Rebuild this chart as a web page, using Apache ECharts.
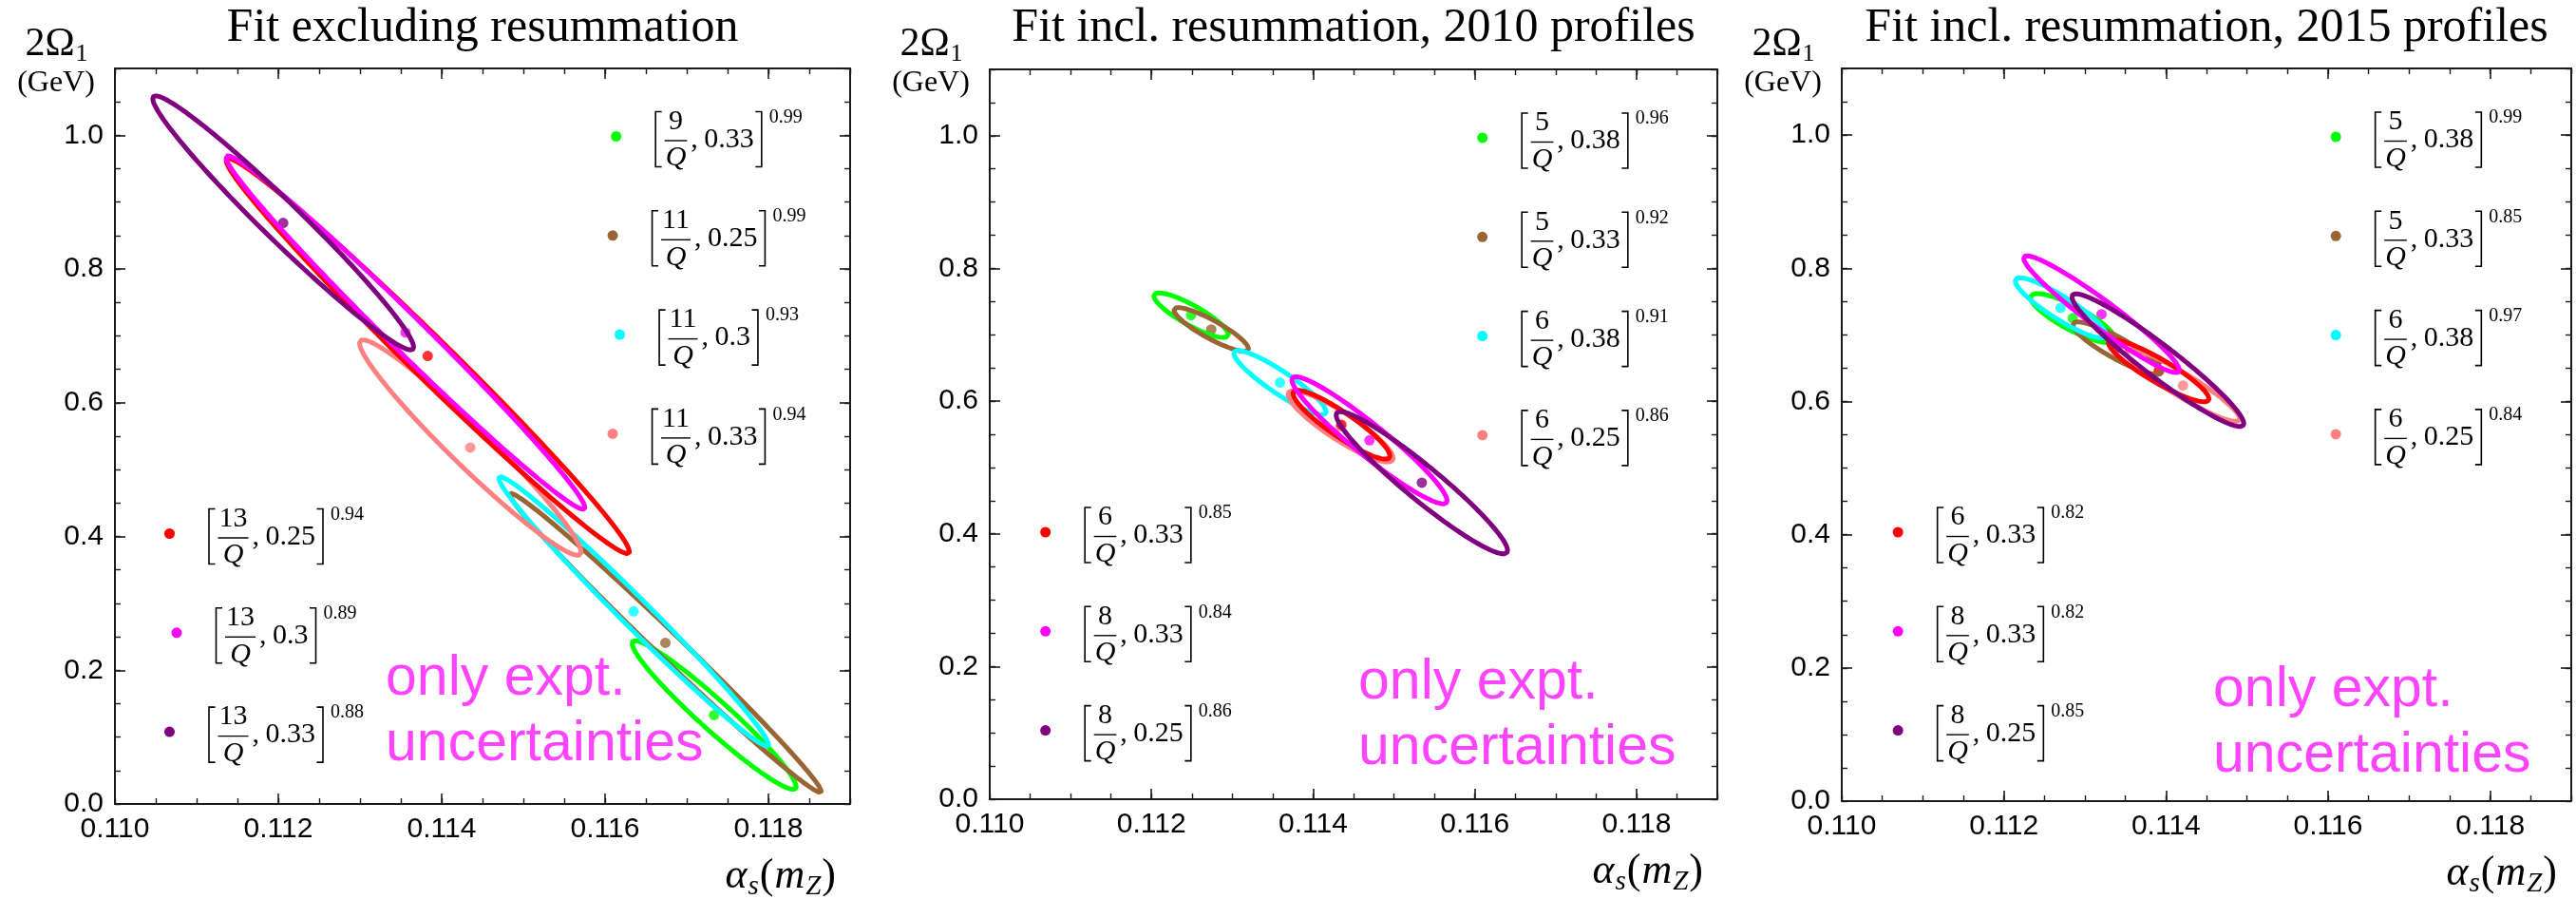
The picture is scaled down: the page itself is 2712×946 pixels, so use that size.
<!DOCTYPE html>
<html><head><meta charset="utf-8">
<script src="https://cdn.jsdelivr.net/npm/echarts@6/dist/echarts.min.js"></script>
<style>html,body{margin:0;padding:0;background:#fff}#c{width:2712px;height:946px}</style>
</head><body><div id="c"></div>
<script>
// ===================== DATA =====================
const panelTitles = ['Fit excluding resummation', 'Fit incl. resummation, 2010 profiles', 'Fit incl. resummation, 2015 profiles'];
const seriesColors = ['#00ff00', '#996633', '#00ffff', '#ff8080', '#ff0000', '#ff00ff', '#800080'];
const xTicksMajor = [0.110, 0.112, 0.114, 0.116, 0.118];
const yTicksMajor = [0.0, 0.2, 0.4, 0.6, 0.8, 1.0];

// Panel 1: fit excluding resummation
const p1Num = ['9', '11', '11', '11', '13', '13', '13'];
const p1Par = ['0.33', '0.25', '0.3', '0.33', '0.25', '0.3', '0.33'];
const p1Sup = ['0.99', '0.99', '0.93', '0.94', '0.94', '0.89', '0.88'];
const p1CX = [0.117335, 0.116739, 0.11635, 0.11435, 0.113829, 0.113557, 0.11206];
const p1CY = [0.133, 0.241, 0.288, 0.533, 0.670, 0.705, 0.869];
const p1DX = [0.001004, 0.001906, 0.00165, 0.001355, 0.002468, 0.0021955, 0.0015965]; // half x-extent
const p1DY = [-0.107, -0.222, -0.199, -0.156, -0.2925, -0.2616, -0.1857];           // y shift at x-extreme
const p1W  = [0.030, 0.026, 0.030, 0.040, 0.042, 0.037, 0.040];                      // vertical half-width at centre

// Panel 2: incl. resummation, 2010 profiles
const p2Num = ['5', '5', '6', '6', '6', '8', '8'];
const p2Par = ['0.38', '0.33', '0.38', '0.25', '0.33', '0.33', '0.25'];
const p2Sup = ['0.96', '0.92', '0.91', '0.86', '0.85', '0.84', '0.86'];
const p2CX = [0.11249, 0.11274, 0.11359, 0.11434, 0.11435, 0.114697, 0.115345];
const p2CY = [0.7295, 0.708, 0.628, 0.562, 0.5645, 0.541, 0.477];
const p2DX = [0.00046, 0.00046, 0.00057, 0.00065, 0.0006, 0.00096, 0.00106];
const p2DY = [-0.029, -0.029, -0.044, -0.048, -0.047, -0.091, -0.102];
const p2W  = [0.017, 0.0155, 0.020, 0.024, 0.022, 0.030, 0.033];

// Panel 3: incl. resummation, 2015 profiles
const p3Num = ['5', '5', '6', '6', '6', '8', '8'];
const p3Par = ['0.38', '0.33', '0.38', '0.25', '0.33', '0.33', '0.25'];
const p3Sup = ['0.99', '0.85', '0.97', '0.84', '0.82', '0.82', '0.85'];
const p3CX = [0.11285, 0.1134, 0.1127, 0.11421, 0.11391, 0.113205, 0.1139];
const p3CY = [0.725, 0.68, 0.7405, 0.624, 0.646, 0.731, 0.662];
const p3DX = [0.00052, 0.00055, 0.00056, 0.0007, 0.00062, 0.00096, 0.00106];
const p3DY = [-0.031, -0.035, -0.0405, -0.05, -0.042, -0.084, -0.095];
const p3W  = [0.020, 0.018, 0.020, 0.020, 0.020, 0.025, 0.030];

const panels = [
  {num: p1Num, par: p1Par, sup: p1Sup, cx: p1CX, cy: p1CY, dx: p1DX, dy: p1DY, w: p1W},
  {num: p2Num, par: p2Par, sup: p2Sup, cx: p2CX, cy: p2CY, dx: p2DX, dy: p2DY, w: p2W},
  {num: p3Num, par: p3Par, sup: p3Sup, cx: p3CX, cy: p3CY, dx: p3DX, dy: p3DY, w: p3W}
];

// ===================== LAYOUT =====================
const grids = [
  {left: 121, top: 72, width: 774, height: 774},
  {left: 1042, top: 73, width: 766, height: 768},
  {left: 1939, top: 72, width: 768, height: 771}
];
const legendUR = [{cx: 623, y: 71.5}, {cx: 614, y: 72}, {cx: 615.5, y: 72}];
const legendLL = [{cx: 157, y: 489.5}, {cx: 154, y: 487}, {cx: 154.5, y: 488}];
const noteXY = [{x: 285, y: 643}, {x: 388, y: 646}, {x: 391, y: 655}];
const ROW = 104.3;

const SERIF = '"Liberation Serif", "Times New Roman", serif';
const SANS = '"Liberation Sans", Arial, sans-serif';
const AX = '#1a1a1a';

const ctx = document.createElement('canvas').getContext('2d');
function tw(text, font) { ctx.font = font; return ctx.measureText(text).width; }
function txt(x, y, text, font, extra) {
  return {type: 'text', x: x, y: y, silent: true, z: 100,
    style: Object.assign({text: text, font: font, fill: '#000', align: 'left', verticalAlign: 'middle'}, extra || {})};
}

function ellipsePts(cx, cy, dx, dy, w) {
  const pts = [];
  const N = 240;
  for (let i = 0; i <= N; i++) {
    const t = 2 * Math.PI * i / N;
    pts.push([cx + dx * Math.cos(t), cy + dy * Math.cos(t) + w * Math.sin(t)]);
  }
  return pts;
}

// ===================== AXES =====================
const xAxes = [], yAxes = [], gridOpts = [], series = [], graphics = [];
grids.forEach(function (g, gi) {
  gridOpts.push({left: g.left, top: g.top, width: g.width, height: g.height, containLabel: false});
  const xb = {type: 'value', gridIndex: gi, min: 0.110, max: 0.119, splitLine: {show: false}};
  const lineOn = {show: true, onZero: false, lineStyle: {color: AX, width: 2}};
  const lineOff = {show: false, onZero: false};
  const tickMaj = {show: true, inside: true, length: 11, lineStyle: {color: AX, width: 1.6}};
  const tickMin = {show: true, inside: true, length: 6, lineStyle: {color: AX, width: 1.4}};
  xAxes.push(Object.assign({}, xb, {position: 'bottom', interval: 0.002, axisLine: lineOn, axisTick: tickMaj,
    axisLabel: {show: true, showMaxLabel: false, margin: 12, color: '#000', fontFamily: SANS, fontSize: 30,
      formatter: function (v) { return v.toFixed(3); }}}));
  xAxes.push(Object.assign({}, xb, {position: 'bottom', interval: 0.0005, axisLine: lineOff, axisTick: tickMin, axisLabel: {show: false}}));
  xAxes.push(Object.assign({}, xb, {position: 'top', interval: 0.002, axisLine: lineOn, axisTick: tickMaj, axisLabel: {show: false}}));
  xAxes.push(Object.assign({}, xb, {position: 'top', interval: 0.0005, axisLine: lineOff, axisTick: tickMin, axisLabel: {show: false}}));
  const yb = {type: 'value', gridIndex: gi, min: 0, max: 1.1, splitLine: {show: false}};
  yAxes.push(Object.assign({}, yb, {position: 'left', interval: 0.2, axisLine: lineOn, axisTick: tickMaj,
    axisLabel: {show: true, showMaxLabel: false, margin: 12, color: '#000', fontFamily: SANS, fontSize: 30,
      formatter: function (v) { return v.toFixed(1); }}}));
  yAxes.push(Object.assign({}, yb, {position: 'left', interval: 0.05, axisLine: lineOff, axisTick: tickMin, axisLabel: {show: false}}));
  yAxes.push(Object.assign({}, yb, {position: 'right', interval: 0.2, axisLine: lineOn, axisTick: tickMaj, axisLabel: {show: false}}));
  yAxes.push(Object.assign({}, yb, {position: 'right', interval: 0.05, axisLine: lineOff, axisTick: tickMin, axisLabel: {show: false}}));

  // ---- series: ellipse then its central value, in plotting order ----
  const P = panels[gi];
  for (let k = 0; k < 7; k++) {
    series.push({type: 'line', xAxisIndex: gi * 4, yAxisIndex: gi * 4, silent: true, animation: false,
      symbol: 'none', showSymbol: false, smooth: false,
      lineStyle: {color: seriesColors[k], width: 5, cap: 'round', join: 'round'},
      data: ellipsePts(P.cx[k], P.cy[k], P.dx[k], P.dy[k], P.w[k])});
    series.push({type: 'scatter', xAxisIndex: gi * 4, yAxisIndex: gi * 4, silent: true, animation: false,
      symbol: 'circle', symbolSize: 11, itemStyle: {color: seriesColors[k]},
      data: [[P.cx[k], P.cy[k]]]});
  }

  // ---- titles and axis names ----
  graphics.push(txt(g.left + g.width / 2, 30, panelTitles[gi], '50px ' + SERIF, {align: 'center'}));
  // y name 2Ω1 (GeV)
  const yn = g.left - 62;
  const f2 = '42px ' + SERIF, fs1 = '26px ' + SERIF;
  const w2 = tw('2Ω', f2), w1 = tw('1', fs1);
  const ys = yn - (w2 + w1) / 2;
  graphics.push(txt(ys, 47, '2Ω', f2));
  graphics.push(txt(ys + w2 + 1, 57, '1', fs1));
  graphics.push(txt(yn, 87.5, '(GeV)', '32px ' + SERIF, {align: 'center'}));
  // x name αs(mZ)
  const fA = 'italic 44px ' + SERIF, fR = '44px ' + SERIF, fSub = 'italic 29px ' + SERIF;
  const parts = [['α', fA, 0], ['s', fSub, 11], ['(', fR, 0], ['m', fA, 0], ['Z', fSub, 11], [')', fR, 0]];
  let totalW = 0; parts.forEach(function (p) { totalW += tw(p[0], p[1]) + 1; });
  let xx = g.left + g.width - 14 - totalW;
  const baseY = g.top + g.height + 76;
  parts.forEach(function (p) {
    graphics.push(txt(xx, baseY + p[2], p[0], p[1]));
    xx += tw(p[0], p[1]) + 1;
  });
  // note
  const nf = '59px ' + SANS;
  graphics.push(txt(g.left + noteXY[gi].x, g.top + noteXY[gi].y, 'only expt.', nf, {fill: '#ff44ff'}));
  graphics.push(txt(g.left + noteXY[gi].x, g.top + noteXY[gi].y + 69, 'uncertainties', nf, {fill: '#ff44ff'}));

  // ---- legends ----
  for (let k = 0; k < 7; k++) {
    let cxL, dotY;
    if (k < 4) { cxL = g.left + legendUR[gi].cx; dotY = g.top + legendUR[gi].y + ROW * k; }
    else { cxL = g.left + legendLL[gi].cx; dotY = g.top + legendLL[gi].y + ROW * (k - 4); }
    legendItem(cxL, dotY, seriesColors[k], P.num[k], P.par[k], P.sup[k]);
  }
});

function legendItem(centerX, dotY, color, num, par, sup) {
  const fN = '30px ' + SERIF, fQ = 'italic 30px ' + SERIF, fS = '20px ' + SERIF;
  const numW = tw(num, fN), qW = tw('Q', fQ), parW = tw(par, fN), supW = tw(sup, fS);
  const barW = Math.max(numW, qW) + 2;
  const pStart = 11 + barW + 18;
  const pEnd = pStart + parW;
  const total = 45.5 + pEnd + 16 + supW;
  const x0 = centerX - total / 2 + 45.5;
  const top = dotY - 26, bot = dotY + 32;
  const st = {stroke: '#000', lineWidth: 1.6, fill: null};
  graphics.push({type: 'circle', silent: true, z: 100, shape: {cx: x0 - 40, cy: dotY, r: 5.5}, style: {fill: color}});
  graphics.push({type: 'polyline', silent: true, z: 100, shape: {points: [[x0 + 8, top], [x0 + 1.5, top], [x0 + 1.5, bot], [x0 + 8, bot]]}, style: st});
  graphics.push(txt(x0 + 11 + barW / 2, dotY - 15.5, num, fN, {align: 'center'}));
  graphics.push({type: 'line', silent: true, z: 100, shape: {x1: x0 + 11, y1: dotY + 4.5, x2: x0 + 11 + barW, y2: dotY + 4.5}, style: {stroke: '#000', lineWidth: 1.4}});
  graphics.push(txt(x0 + 11 + barW / 2, dotY + 23, 'Q', fQ, {align: 'center'}));
  graphics.push(txt(x0 + 11 + barW + 4, dotY + 3.5, ',', fN));
  graphics.push(txt(x0 + pStart, dotY + 3.5, par, fN));
  graphics.push({type: 'polyline', silent: true, z: 100, shape: {points: [[x0 + pEnd + 1.5, top], [x0 + pEnd + 8, top], [x0 + pEnd + 8, bot], [x0 + pEnd + 1.5, bot]]}, style: st});
  graphics.push(txt(x0 + pEnd + 16, dotY - 20, sup, fS));
}

const chart = echarts.init(document.getElementById('c'), null, {renderer: 'canvas', width: 2712, height: 946});
chart.setOption({
  backgroundColor: '#fff',
  animation: false,
  grid: gridOpts,
  xAxis: xAxes,
  yAxis: yAxes,
  series: series,
  graphic: graphics
});
</script>
</body></html>
